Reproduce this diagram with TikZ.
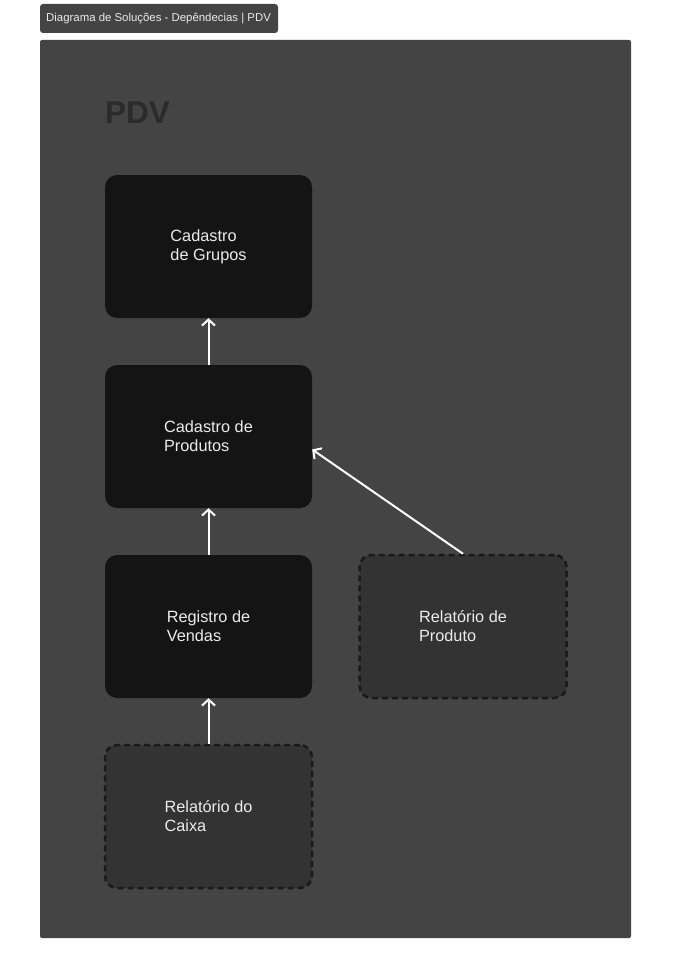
\documentclass[tikz,border=0pt]{standalone}
\usepackage{fontspec}
\setmainfont{Liberation Sans}
\usetikzlibrary{arrows.meta}

\definecolor{framegray}{HTML}{444444}
\definecolor{boxblack}{HTML}{141414}
\definecolor{boxdark}{HTML}{333333}
\definecolor{dashgray}{HTML}{1A1A1A}
\definecolor{titlegray}{HTML}{2B2B2B}
\definecolor{labelwhite}{HTML}{EBEBEB}

\begin{document}
\begin{tikzpicture}[x=1pt, y=-1pt,
    module/.style={rectangle, rounded corners=12pt, fill=boxblack,
      minimum width=207pt, minimum height=143pt, text=labelwhite,
      align=left, font=\fontsize{16.3}{19}\selectfont},
    planned/.style={module, fill=boxdark, draw=dashgray, line width=2.5pt,
      dash pattern=on 6pt off 4pt},
    depends/.style={draw=white, line width=2pt,
      -{Straight Barb[length=6pt, width=13pt, line width=2pt]}}
  ]
  \useasboundingbox (0,0) rectangle (672,979);
  \fill[white] (0,0) rectangle (672,979);

  % Header tab and frame
  \fill[framegray, rounded corners=3pt] (40,4) rectangle (278,33);
  \node[text=labelwhite, anchor=west, inner sep=0pt,
    font=\fontsize{11.4}{12}\selectfont]
    (header) at (46,18.5) {Diagrama de Soluções - Depêndecias | PDV};
  \fill[framegray, rounded corners=2pt] (40,40) rectangle (631,938);
  \node[text=titlegray, anchor=base west, inner sep=0pt,
    font=\fontsize{31.5}{31}\selectfont\bfseries] (pdv) at (105,124) {PDV};

  % Modules
  \node[module] (grupos)   at (208.5,246.5) {Cadastro\\de Grupos};
  \node[module] (produtos) at (208.5,436.5) {Cadastro de\\Produtos};
  \node[module] (vendas)   at (208.5,626.5) {Registro de\\Vendas};

  % Planned reports (dashed)
  \node[planned] (relprod)  at (463,626.5) {Relatório de\\Produto};
  \node[planned] (relcaixa) at (208.5,816.5) {Relatório do\\Caixa};

  % Dependencies
  \draw[depends] (produtos.north) -- (grupos.south);
  \draw[depends] (vendas.north) -- (produtos.south);
  \draw[depends] (relcaixa.north) -- (vendas.south);
  \draw[depends] (relprod.north) -- ([yshift=-13pt]produtos.east);
\end{tikzpicture}
\end{document}
